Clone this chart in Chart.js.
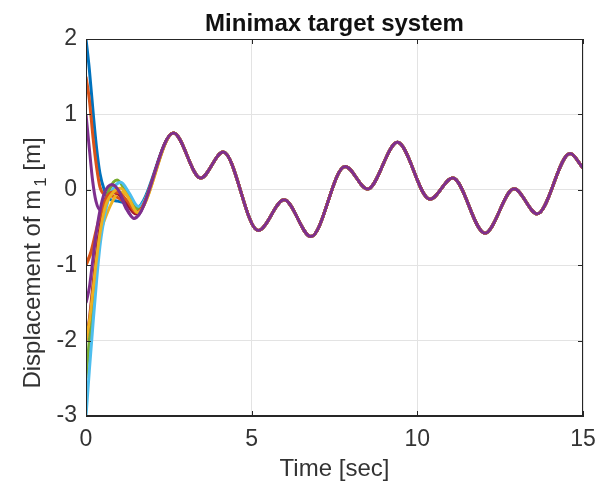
<!DOCTYPE html>
<html><head><meta charset="utf-8">
<script src="https://cdn.jsdelivr.net/npm/chart.js@4/dist/chart.umd.min.js"></script>
<style>html,body{margin:0;padding:0;background:#fff}#wrap{width:608px;height:486px}</style>
</head><body><div id="wrap"><canvas id="c" width="608" height="486"></canvas></div>
<script>
// ---- data ----
const chartTitle = "Minimax target system";
const xLabel = "Time [sec]";
const yLabelMain = "Displacement of m";
const yLabelSub = "1";
const yLabelEnd = " [m]";
const xTicks = [0, 5, 10, 15];
const yTicks = [-3, -2, -1, 0, 1, 2];

// common trajectory (after transients)
const commonT = [2.64, 3.46, 4.14, 5.20, 5.98, 6.79, 7.82, 8.50, 9.40, 10.38, 11.07, 12.04, 12.92, 13.62, 14.61, 15.0];
const commonV = [0.753, 0.156, 0.50, -0.54, -0.133, -0.62, 0.31, 0.009, 0.63, -0.124, 0.156, -0.575, 0.013, -0.319, 0.48, 0.29];

// transients, one per initial condition
const blueT = [0, 0.1, 0.22, 0.32, 0.42, 0.55, 0.7, 0.95, 1.2, 1.52];
const blueV = [2, 1.6, 1.0, 0.55, 0.22, 0.0, -0.12, -0.15, -0.18, -0.24];
const orangeT = [0, 0.1, 0.22, 0.32, 0.42, 0.55, 0.72, 0.95, 1.2, 1.52];
const orangeV = [1.5, 1.2, 0.66, 0.3, 0.04, -0.06, -0.08, -0.1, -0.18, -0.28];
const purpleAT = [0, 0.1, 0.2, 0.3, 0.44, 0.6, 0.8, 1.0, 1.2, 1.45];
const purpleAV = [1, 0.55, 0.12, -0.15, -0.27, -0.1, 0.06, -0.04, -0.24, -0.38];
const yellowAT = [0, 0.2, 0.42, 0.6, 0.78, 1.0, 1.25, 1.55];
const yellowAV = [-1, -0.8, -0.57, -0.35, -0.17, -0.03, -0.08, -0.3];
const orangeBT = [0, 0.15, 0.3, 0.45, 0.6, 0.8, 1.0, 1.25, 1.52];
const orangeBV = [-1, -0.82, -0.55, -0.3, -0.12, -0.03, -0.04, -0.15, -0.3];
const purpleBT = [0, 0.1, 0.2, 0.3, 0.42, 0.55, 0.78, 1.0, 1.2, 1.45];
const purpleBV = [-1.5, -1.3, -0.95, -0.6, -0.28, -0.05, 0.07, -0.02, -0.22, -0.38];
const redT = [0, 0.1, 0.2, 0.3, 0.45, 0.6, 0.85, 1.05, 1.25, 1.5];
const redV = [-2, -1.72, -1.3, -0.9, -0.42, -0.15, -0.04, -0.08, -0.2, -0.32];
const yellowBT = [0, 0.1, 0.2, 0.3, 0.45, 0.6, 0.85, 1.05, 1.3, 1.55];
const yellowBV = [-2, -1.75, -1.38, -0.98, -0.5, -0.2, -0.02, 0.02, -0.12, -0.3];
const greenT = [0, 0.1, 0.22, 0.32, 0.42, 0.55, 0.7, 0.94, 1.2, 1.55];
const greenV = [-2.5, -2.0, -1.42, -0.95, -0.58, -0.25, 0.0, 0.13, -0.02, -0.25];
const lightBlueT = [0, 0.1, 0.22, 0.32, 0.42, 0.52, 0.62, 0.8, 1.05, 1.3, 1.58];
const lightBlueV = [-3, -2.4, -1.73, -1.2, -0.75, -0.45, -0.22, 0.0, 0.1, -0.04, -0.22];

// drawn bottom-to-top order
const seriesList = [
  {t: blueT, v: blueV, color: "#0072BD"},
  {t: orangeT, v: orangeV, color: "#D95319"},
  {t: yellowAT, v: yellowAV, color: "#EDB120"},
  {t: purpleAT, v: purpleAV, color: "#7E2F8E"},
  {t: greenT, v: greenV, color: "#77AC30"},
  {t: lightBlueT, v: lightBlueV, color: "#4DBEEE"},
  {t: redT, v: redV, color: "#A2142F"},
  {t: orangeBT, v: orangeBV, color: "#D95319"},
  {t: yellowBT, v: yellowBV, color: "#EDB120"},
  {t: purpleBT, v: purpleBV, color: "#7E2F8E"}
];

const datasets = seriesList.map((s, i) => {
  const pts = s.t.map((t, k) => ({x: t, y: s.v[k]}));
  commonT.forEach((t, k) => pts.push({x: t, y: commonV[k]}));
  return {
    data: pts, borderColor: s.color, backgroundColor: s.color,
    borderWidth: 3, pointRadius: 0, showLine: true, fill: false,
    cubicInterpolationMode: 'monotone', order: seriesList.length - i
  };
});

const AX = "#262626";
const decor = {
  id: 'decor',
  afterDraw(chart) {
    const {ctx, chartArea: a, scales} = chart;
    ctx.save();
    ctx.strokeStyle = AX; ctx.lineWidth = 1;
    ctx.strokeRect(a.left + 0.5, a.top + 0.5, a.right - a.left - 1, a.bottom - a.top - 1);
    // inward tick marks
    const L = 5;
    ctx.beginPath();
    xTicks.forEach(t => {
      const x = Math.round(scales.x.getPixelForValue(t)) + 0.5;
      ctx.moveTo(x, a.bottom); ctx.lineTo(x, a.bottom - L);
      ctx.moveTo(x, a.top); ctx.lineTo(x, a.top + L);
    });
    yTicks.forEach(v => {
      const y = Math.round(scales.y.getPixelForValue(v)) + 0.5;
      ctx.moveTo(a.left, y); ctx.lineTo(a.left + L, y);
      ctx.moveTo(a.right, y); ctx.lineTo(a.right - L, y);
    });
    ctx.stroke();
    // title
    ctx.fillStyle = "#111";
    ctx.font = "bold 24px 'Liberation Sans', Arial, sans-serif";
    ctx.textAlign = "center"; ctx.textBaseline = "alphabetic";
    ctx.fillText(chartTitle, (a.left + a.right) / 2, 31);
    // x label
    ctx.fillStyle = "#333";
    ctx.font = "24px 'Liberation Sans', Arial, sans-serif";
    ctx.fillText(xLabel, (a.left + a.right) / 2, 476);
    // y label with subscript
    const fMain = "24px 'Liberation Sans', Arial, sans-serif";
    const fSub = "17px 'Liberation Sans', Arial, sans-serif";
    ctx.font = fMain; const w1 = ctx.measureText(yLabelMain).width;
    const w3 = ctx.measureText(yLabelEnd).width;
    ctx.font = fSub; const w2 = ctx.measureText(yLabelSub).width + 3;
    const total = w1 + w2 + w3;
    ctx.translate(40, 263);
    ctx.rotate(-Math.PI / 2);
    ctx.textAlign = "left";
    let x0 = -total / 2;
    ctx.font = fMain; ctx.fillText(yLabelMain, x0, 0);
    ctx.font = fSub; ctx.fillText(yLabelSub, x0 + w1 + 3, 6);
    ctx.font = fMain; ctx.fillText(yLabelEnd, x0 + w1 + w2, 0);
    ctx.restore();
  }
};

new Chart(document.getElementById('c'), {
  type: 'scatter',
  data: {datasets},
  options: {
    responsive: false, devicePixelRatio: 1, animation: false,
    layout: {padding: {left: 0, top: 39, right: 25, bottom: 0}},
    plugins: {legend: {display: false}, tooltip: {enabled: false}, title: {display: false}},
    scales: {
      x: {
        type: 'linear', min: 0, max: 15,
        afterFit: s => { s.height = 70; },
        afterBuildTicks: s => { s.ticks = xTicks.map(v => ({value: v})); },
        grid: {color: "#e3e3e3", lineWidth: 1, drawTicks: false},
        border: {color: AX},
        ticks: {color: "#333", padding: 10, font: {family: "'Liberation Sans', Arial, sans-serif", size: 23}}
      },
      y: {
        type: 'linear', min: -3, max: 2,
        afterFit: s => { s.width = 86; },
        afterBuildTicks: s => { s.ticks = yTicks.map(v => ({value: v})); },
        grid: {color: "#e3e3e3", lineWidth: 1, drawTicks: false},
        border: {color: AX},
        ticks: {color: "#333", padding: 9, font: {family: "'Liberation Sans', Arial, sans-serif", size: 23}}
      }
    }
  },
  plugins: [decor]
});
</script></body></html>
